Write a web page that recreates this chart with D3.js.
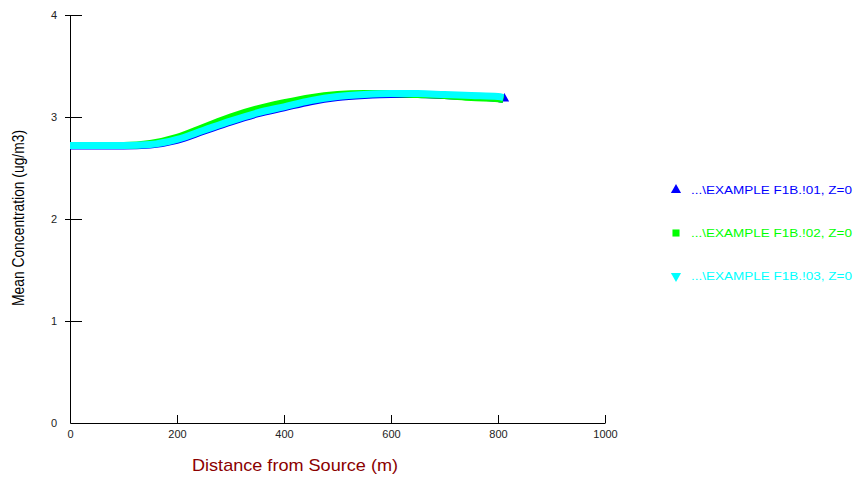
<!DOCTYPE html>
<html>
<head>
<meta charset="utf-8">
<script src="https://cdn.jsdelivr.net/npm/d3@7"></script>
<style>
  body { margin: 0; background: #fff; }
  svg { font-family: "Liberation Sans", Arial, sans-serif; }
</style>
</head>
<body>
<svg id="chart" width="855" height="477"></svg>
<script>
//  distances (m)
const distances = [0, 50, 100, 150, 200, 250, 300, 350, 400, 450, 500, 550, 600, 650, 700, 750, 800, 810];

//  mean concentration per run (ug/m3)
const run01 = [2.715, 2.715, 2.715, 2.725, 2.77, 2.86, 2.95, 3.03, 3.09, 3.15, 3.19, 3.21, 3.22, 3.22, 3.21, 3.20, 3.18, 3.17];
const run02 = [2.72, 2.72, 2.72, 2.74, 2.80, 2.90, 3.00, 3.08, 3.14, 3.19, 3.22, 3.23, 3.23, 3.22, 3.21, 3.19, 3.18, 3.17];
const run03 = [2.72, 2.72, 2.72, 2.73, 2.78, 2.87, 2.96, 3.04, 3.10, 3.16, 3.20, 3.22, 3.23, 3.23, 3.22, 3.21, 3.20, 3.19];

const series_names = ["...\\EXAMPLE F1B.!01, Z=0", "...\\EXAMPLE F1B.!02, Z=0", "...\\EXAMPLE F1B.!03, Z=0"];
const series_colors = ["#0000ff", "#00ff00", "#00ffff"];
const series_symbols = [d3.symbolTriangle, d3.symbolSquare, d3.symbolTriangle];

const x_ticks = [0, 200, 400, 600, 800, 1000];
const y_ticks = [0, 1, 2, 3, 4];

function draw_chart() {
  const margin = ({top: 15, left: 70});
  const w = 535;
  const h = 408;

  const svg = d3.select("#chart");
  const g = svg.append("g").attr("transform", `translate(${margin.left},${margin.top})`);

  const x = d3.scaleLinear().domain([0, 1000]).range([0, w]);
  const y = d3.scaleLinear().domain([0, 4]).range([h, 0]);

  //  x axis, ticks pointing up
  const xa = g.append("g")
    .attr("transform", `translate(0,${h})`)
    .call(d3.axisBottom(x).tickValues(x_ticks).tickFormat(d3.format("d")).tickSizeInner(-8).tickSizeOuter(0).tickPadding(9));
  xa.select(".domain").attr("stroke", "#000");
  xa.selectAll(".tick line").attr("stroke", "#000");
  xa.selectAll(".tick text").style("font-size", "11px").attr("fill", "#222").attr("dy", "0.9em");
  xa.selectAll(".tick text").attr("transform", "translate(0,-4)");

  //  y axis, ticks crossing
  const ya = g.append("g")
    .call(d3.axisLeft(y).tickValues(y_ticks).tickFormat(d3.format("d")).tickSizeInner(-12).tickSizeOuter(0).tickPadding(13));
  ya.select(".domain").attr("stroke", "#000");
  ya.selectAll(".tick line").attr("stroke", "#000").attr("x1", -5);
  ya.selectAll(".tick").filter(d => d == 0).select("line").remove();
  ya.selectAll(".tick text").style("font-size", "11px").attr("fill", "#222");

  //  lines
  const runs = [run01, run02, run03];
  const line = d3.line().x(d => x(d[0])).y(d => y(d[1])).curve(d3.curveMonotoneX);

  runs.forEach((vals, i) => {
    const pts = distances.map((d, j) => [d, vals[j]]);
    g.append("path")
      .attr("d", line(pts))
      .attr("fill", "none")
      .attr("stroke", series_colors[i])
      .attr("stroke-width", 7);
    const last = pts[pts.length - 1];
    if (i == 0) {
      g.append("path")
        .attr("d", d3.symbol().type(series_symbols[i]).size(40)())
        .attr("transform", `translate(${x(last[0]) + 1},${y(last[1]) - 1})`)
        .attr("fill", series_colors[i]);
    }
  });

  //  axis titles
  svg.append("text")
    .attr("x", 192).attr("y", 471)
    .attr("textLength", 206).attr("lengthAdjust", "spacingAndGlyphs")
    .style("font-size", "17px").attr("fill", "#8b0000")
    .text("Distance from Source (m)");

  svg.append("text")
    .attr("transform", "translate(24,306) rotate(-90)")
    .attr("textLength", 176).attr("lengthAdjust", "spacingAndGlyphs")
    .style("font-size", "17px").attr("fill", "#000")
    .text("Mean Concentration (ug/m3)");

  //  legend
  series_names.forEach((name, i) => {
    const ly = 190 + i * 43;
    svg.append("path")
      .attr("d", d3.symbol().type(series_symbols[i]).size(i == 1 ? 50 : 45)())
      .attr("transform", `translate(676,${ly})` + (i == 2 ? " rotate(180)" : ""))
      .attr("fill", series_colors[i]);
    svg.append("text")
      .attr("x", 691).attr("y", ly + 4)
      .attr("textLength", 161).attr("lengthAdjust", "spacingAndGlyphs")
      .style("font-size", "11px").attr("fill", series_colors[i])
      .text(name);
  });
}

draw_chart();
</script>
</body>
</html>
